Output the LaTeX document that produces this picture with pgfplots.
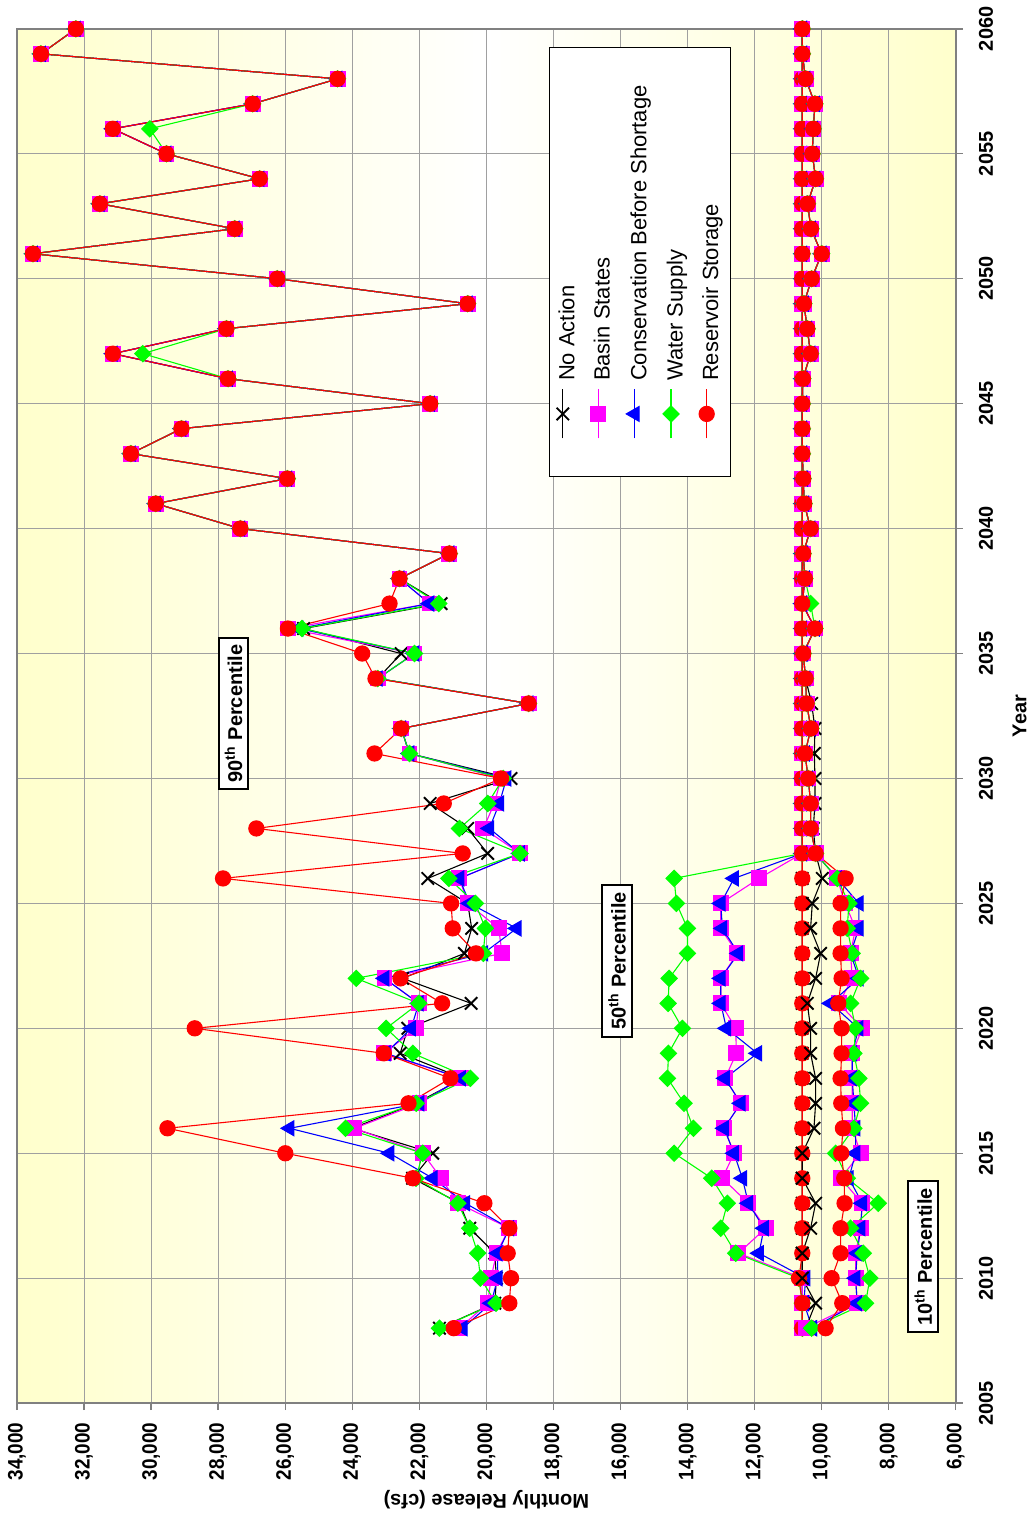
\documentclass[border=0pt]{standalone}
\usepackage{fontspec}
\setmainfont{Liberation Sans}
\newfontfamily\tickfont[FakeStretch=0.9]{Liberation Sans}
\usepackage{pgfplots}
\usepackage{pgfplotstable}
\pgfplotsset{compat=1.18}
\definecolor{bgyel}{HTML}{FFFFCC}
\definecolor{gridgray}{HTML}{A0A0A0}
\definecolor{axgray}{HTML}{808080}
\definecolor{mag}{RGB}{255,0,255}
\definecolor{grn}{RGB}{0,255,0}
\definecolor{blu}{RGB}{0,0,255}
\definecolor{rd}{RGB}{255,0,0}

\pgfplotstableread{
year na bs cbs ws rs
2008 21400 20800 20706 21400 20973
2009 19750 19960 19860 19712 19315
2010 19700 19861 19663 20179 19265
2011 19750 19700 19663 20259 19365
2012 20497 19315 19315 20497 19315
2013 20800 20850 20626 20850 20060
2014 22200 21350 21598 22100 22194
2015 21600 21897 22889 21897 25997
2016 24000 23932 25868 24200 29511
2017 22100 21996 21996 22095 22323
2018 20700 20754 20754 20477 21072
2019 22571 23059 23000 22194 23059
2020 22343 22095 22244 22989 28698
2021 20455 22016 22016 22016 21320
2022 22500 23038 23038 23882 22562
2023 20655 19533 20089 20089 20308
2024 20438 19633 19097 20030 21003
2025 20557 20557 20500 20328 21052
2026 21747 20804 20804 21121 27854
2027 19962 18997 18997 18997 20706
2028 20557 20089 19911 20804 26860
2029 21677 19762 19613 19960 21271
2030 19265 19562 19400 19500 19562
2031 22294 22294 22294 22294 23336
2032 22541 22541 22541 22541 22541
2033 18740 18740 18740 18740 18740
2034 23238 23238 23238 23238 23307
2035 22541 22145 22145 22145 23703
2036 25451 25919 25600 25500 25919
2037 21350 21698 21698 21420 22889
2038 22592 22592 22592 22592 22592
2039 21102 21102 21102 21102 21102
2040 27337 27337 27337 27337 27337
2041 29860 29860 29860 29860 29860
2042 25937 25937 25937 25937 25937
2043 30604 30604 30604 30604 30604
2044 29094 29094 29094 29094 29094
2045 21677 21677 21677 21677 21677
2046 27706 27706 27706 27706 27706
2047 31140 31140 31140 30247 31140
2048 27754 27754 27754 27754 27754
2049 20557 20557 20557 20557 20557
2050 26235 26235 26235 26235 26235
2051 33523 33523 33523 33523 33523
2052 27506 27506 27506 27506 27506
2053 31528 31528 31528 31528 31528
2054 26762 26762 26762 26762 26762
2055 29541 29541 29541 29541 29541
2056 31140 31140 31140 30038 31140
2057 26970 26970 26970 26970 26970
2058 24438 24438 24438 24438 24438
2059 33285 33285 33285 33285 33285
2060 32243 32243 32243 32243 32243
}\pNinety

\pgfplotstableread{
year na bs cbs ws rs
2008 10580 10578 10280 10578 10578
2009 10580 10578 10530 10578 10578
2010 10580 10578 10479 10680 10677
2011 10580 12484 11869 12564 10578
2012 10580 11670 11720 13010 10578
2013 10580 12186 12186 12812 10578
2014 10580 12961 12365 13278 10578
2015 10580 12613 12613 14400 10578
2016 10580 12911 12911 13825 10578
2017 10580 12415 12415 14103 10578
2018 10580 12881 12881 14599 10578
2019 10580 12544 11918 14569 10578
2020 10580 12564 12842 14152 10578
2021 10580 13010 13010 14579 10578
2022 10580 13010 13010 14549 10578
2023 10580 12514 12484 14003 10578
2024 10580 13010 12961 14003 10578
2025 10580 13010 13010 14331 10578
2026 10580 11868 12613 14400 10578
2027 10578 10578 10578 10578 10578
2028 10578 10578 10578 10578 10578
2029 10578 10578 10578 10578 10578
2030 10578 10578 10578 10578 10578
2031 10578 10578 10578 10578 10578
2032 10578 10578 10578 10578 10578
2033 10578 10578 10578 10578 10578
2034 10578 10578 10578 10578 10578
2035 10578 10578 10578 10578 10578
2036 10578 10578 10578 10578 10578
2037 10578 10578 10578 10578 10578
2038 10578 10578 10578 10578 10578
2039 10578 10578 10578 10578 10578
2040 10578 10578 10578 10578 10578
2041 10578 10578 10578 10578 10578
2042 10578 10578 10578 10578 10578
2043 10578 10578 10578 10578 10578
2044 10578 10578 10578 10578 10578
2045 10578 10578 10578 10578 10578
2046 10578 10578 10578 10578 10578
2047 10578 10578 10578 10578 10578
2048 10578 10578 10578 10578 10578
2049 10578 10578 10578 10578 10578
2050 10578 10578 10578 10578 10578
2051 10578 10578 10578 10578 10578
2052 10578 10578 10578 10578 10578
2053 10578 10578 10578 10578 10578
2054 10578 10578 10578 10578 10578
2055 10578 10578 10578 10578 10578
2056 10578 10578 10578 10578 10578
2057 10578 10578 10578 10578 10578
2058 10578 10578 10578 10578 10578
2059 10578 10578 10578 10578 10578
2060 10578 10578 10578 10578 10578
}\pFifty

\pgfplotstableread{
year na bs cbs ws rs
2008 10478 10480 10280 10300 9883
2009 10181 8940 8940 8691 9386
2010 10578 8989 8989 8562 9704
2011 10578 8989 8940 8761 9436
2012 10330 8840 8840 9138 9436
2013 10181 8790 8790 8314 9317
2014 10578 9436 9188 9237 9327
2015 10578 8840 8989 9585 9416
2016 10230 9088 8989 9039 9366
2017 10181 9088 9039 8840 9416
2018 10181 9088 9088 8890 9436
2019 10330 9088 9088 9039 9406
2020 10330 8790 8900 8989 9406
2021 10429 9485 9734 9138 9505
2022 10181 9088 8890 8840 9406
2023 10032 9138 9138 9088 9436
2024 10330 8990 8890 9237 9436
2025 10280 9300 8890 9188 9436
2026 9982 9535 9535 9535 9287
2027 10181 10181 10181 10181 10181
2028 10250 10330 10330 10330 10330
2029 10200 10330 10330 10330 10330
2030 10200 10400 10400 10400 10400
2031 10220 10500 10500 10500 10500
2032 10200 10320 10320 10320 10320
2033 10300 10450 10450 10450 10450
2034 10480 10480 10480 10480 10480
2035 10550 10550 10550 10550 10550
2036 10200 10200 10200 10200 10200
2037 10578 10578 10578 10330 10578
2038 10500 10500 10500 10500 10500
2039 10550 10550 10550 10550 10550
2040 10330 10330 10330 10330 10330
2041 10520 10520 10520 10520 10520
2042 10550 10550 10550 10550 10550
2043 10578 10578 10578 10578 10578
2044 10578 10578 10578 10578 10578
2045 10578 10578 10578 10578 10578
2046 10560 10560 10560 10560 10560
2047 10330 10330 10330 10330 10330
2048 10430 10430 10430 10430 10430
2049 10530 10530 10530 10530 10530
2050 10300 10300 10300 10300 10300
2051 10000 10000 10000 10000 10000
2052 10320 10320 10320 10320 10320
2053 10420 10420 10420 10420 10420
2054 10180 10180 10180 10180 10180
2055 10280 10280 10280 10280 10280
2056 10250 10250 10250 10250 10250
2057 10200 10200 10200 10200 10200
2058 10480 10480 10480 10480 10480
2059 10578 10578 10578 10578 10578
2060 10578 10578 10578 10578 10578
}\pTen

\pgfplotsset{
  sna/.style={black, line width=0.55pt, mark=x, mark size=4.4pt, mark options={line width=0.95pt}},
  sbs/.style={mag, line width=0.55pt, mark=square*, mark size=3.7pt, mark options={solid}},
  scbs/.style={blu, line width=0.55pt, mark=triangle*, mark size=4.3pt, mark options={solid}},
  sws/.style={grn, line width=0.55pt, mark=square*, mark size=2.85pt, mark options={solid, rotate=45}},
  srs/.style={rd, line width=0.55pt, mark=*, mark size=3.8pt, mark options={solid}},
}

\begin{document}
\begin{tikzpicture}[rotate=90, transform shape]
\begin{axis}[
  name=ax,
  width=688pt, height=470pt, scale only axis,
  xmin=2005, xmax=2060, ymin=6000, ymax=34000,
  xtick={2005,2010,...,2060},
  ytick={6000,8000,...,34000},
  scaled ticks=false,
  /pgf/number format/assume math mode=true,
  xticklabel style={/pgf/number format/1000 sep={}, font=\fontsize{10}{12}\selectfont\bfseries, yshift=-4.5pt},
  yticklabel style={font=\fontsize{10.5}{12}\selectfont\tickfont\bfseries, xshift=-2.7pt},
  tick pos=left, tick align=outside, major tick length=3.5pt,
  tick style={axgray, line width=0.7pt},
  axis line style={axgray, line width=1pt},
  grid=major, major grid style={gridgray, line width=0.5pt},
  axis background/.style={top color=bgyel, bottom color=bgyel, middle color=white},
  xlabel={Year}, ylabel={Monthly Release (cfs)},
  label style={font=\fontsize{10}{12}\selectfont\bfseries},
  xlabel style={at={(axis description cs:0.5,-0.068)}, anchor=center},
  ylabel style={at={(axis description cs:-0.0705,0.5)}, anchor=center},
  legend style={at={(axis description cs:0.9869,0.2394)}, anchor=south east,
    draw=black, line width=0.5pt, fill=white,
    font=\fontsize{11}{13}\selectfont,
    inner xsep=19pt, inner ysep=3.7pt, row sep=5.8pt, column sep=4pt,
    nodes={inner sep=0pt, text height=8pt, text depth=2.5pt}},
  legend cell align=left,
  legend image code/.code={\draw[mark repeat=2,mark phase=2,#1] plot coordinates {(0pt,3pt)(12.25pt,3pt)(24.5pt,3pt)};},
]
\addplot[sna] table[x=year,y=na]{\pNinety};
\addlegendentry{No Action}
\addplot[sbs] table[x=year,y=bs]{\pNinety};
\addlegendentry{Basin States}
\addplot[scbs] table[x=year,y=cbs]{\pNinety};
\addlegendentry{Conservation Before Shortage}
\addplot[sws] table[x=year,y=ws]{\pNinety};
\addlegendentry{Water Supply}
\addplot[srs] table[x=year,y=rs]{\pNinety};
\addlegendentry{Reservoir Storage}

\addplot[sna, forget plot] table[x=year,y=na]{\pFifty};
\addplot[sbs, forget plot] table[x=year,y=bs]{\pFifty};
\addplot[scbs, forget plot] table[x=year,y=cbs]{\pFifty};
\addplot[sws, forget plot] table[x=year,y=ws]{\pFifty};
\addplot[srs, forget plot] table[x=year,y=rs]{\pFifty};

\addplot[sna, forget plot] table[x=year,y=na]{\pTen};
\addplot[sbs, forget plot] table[x=year,y=bs]{\pTen};
\addplot[scbs, forget plot] table[x=year,y=cbs]{\pTen};
\addplot[sws, forget plot] table[x=year,y=ws]{\pTen};
\addplot[srs, forget plot] table[x=year,y=rs]{\pTen};

\node[draw=black, line width=1pt, fill=white, inner xsep=3.5pt, inner ysep=3pt, font=\fontsize{10}{12}\selectfont\bfseries] at (axis cs:2032.6,27540) {90\textsuperscript{th} Percentile};
\node[draw=black, line width=1pt, fill=white, inner xsep=3.5pt, inner ysep=3pt, font=\fontsize{10}{12}\selectfont\bfseries] at (axis cs:2022.7,16100) {50\textsuperscript{th} Percentile};
\node[draw=black, line width=1pt, fill=white, inner xsep=3.5pt, inner ysep=3pt, font=\fontsize{10}{12}\selectfont\bfseries] at (axis cs:2010.86,6970) {10\textsuperscript{th} Percentile};
\end{axis}
\path ([shift={(-57.5pt,-38.5pt)}]ax.south west) rectangle ([shift={(13.5pt,8.5pt)}]ax.north east);
\end{tikzpicture}
\end{document}
